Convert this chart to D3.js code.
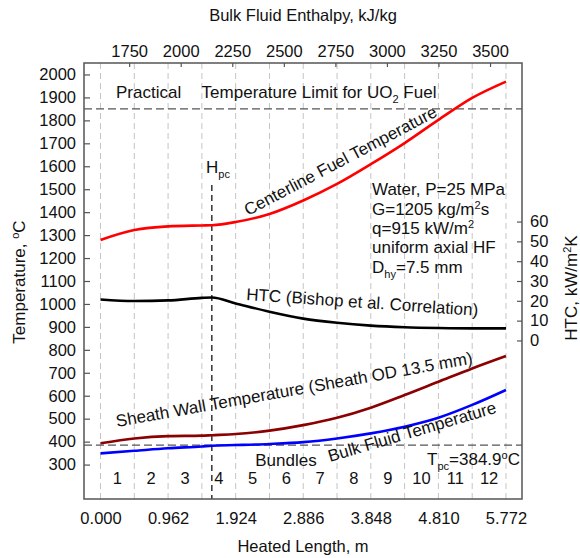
<!DOCTYPE html>
<html><head><meta charset="utf-8">
<script src="https://cdn.jsdelivr.net/npm/d3@7"></script>
<style>
body{margin:0;background:#fff}
svg text{font-family:"Liberation Sans",Arial,Helvetica,sans-serif;fill:#111}
</style>
</head><body><svg id="chart" width="580" height="558"></svg>
<script>
// ---------- data ----------
const heatedLength   = [0, 0.481, 0.962, 1.443, 1.585, 1.924, 2.405, 2.886, 3.367, 3.848, 4.329, 4.810, 5.291, 5.772];
const centerlineTemp = [1279, 1322, 1338, 1342, 1343, 1357, 1392, 1451, 1523, 1609, 1701, 1802, 1898, 1969];
const sheathTemp     = [393, 414, 424, 426, 428, 433, 448, 472, 504, 548, 603, 661, 719, 773];
const bulkTemp       = [349, 360, 371, 379, 382, 385, 390, 398, 414, 436, 465, 504, 560, 625];
const htcValues      = [20.7, 19.9, 20.2, 21.5, 21.7, 18.7, 14.5, 11.0, 8.9, 7.5, 6.7, 6.3, 6.1, 6.1];

const bundleBoundaries = [0, 0.481, 0.962, 1.443, 1.924, 2.405, 2.886, 3.367, 3.848, 4.329, 4.810, 5.291, 5.772];
const bundleLabels     = ["1","2","3","4","5","6","7","8","9","10","11","12"];
const lengthTicks      = [0, 0.962, 1.924, 2.886, 3.848, 4.810, 5.772];
const lengthTickLabels = ["0.000","0.962","1.924","2.886","3.848","4.810","5.772"];
const enthalpyTicks    = [1750, 2000, 2250, 2500, 2750, 3000, 3250, 3500];
const tempTicks        = [300,400,500,600,700,800,900,1000,1100,1200,1300,1400,1500,1600,1700,1800,1900,2000];
const htcTicks         = [0, 10, 20, 30, 40, 50, 60];
const tempLimit  = 1850;
const tPc        = 384.9;
const hPcLength  = 1.585;

// ---------- layout ----------
const L = 84, R = 522, T = 63, B = 499;
const FS = 17, TFS = 16.5;
const svg = d3.select("#chart");

const x    = d3.scaleLinear().domain([-0.235, 6.0]).range([L, R]);
const xTop = d3.scaleLinear().domain([1531, 3655]).range([L, R]);
const y    = d3.scaleLinear().domain([150, 2050]).range([B, T]);
const yR   = d3.scaleLinear().domain([-80, 140]).range([B, T]);

// vertical grid lines at bundle boundaries
svg.append("g").selectAll("line").data(bundleBoundaries).join("line")
  .attr("x1", d => x(d)).attr("x2", d => x(d)).attr("y1", T).attr("y2", B)
  .attr("stroke", "#c4c4c4").attr("stroke-width", 1).attr("stroke-dasharray", "6,4");

// horizontal reference lines
svg.append("g").selectAll("line").data([tempLimit, tPc]).join("line")
  .attr("x1", L).attr("x2", R).attr("y1", d => y(d)).attr("y2", d => y(d))
  .attr("stroke", "#555").attr("stroke-width", 1.2).attr("stroke-dasharray", "8,4");

// Hpc line
svg.append("line").attr("x1", x(hPcLength)).attr("x2", x(hPcLength))
  .attr("y1", 185).attr("y2", B)
  .attr("stroke", "#000").attr("stroke-width", 1.2).attr("stroke-dasharray", "6,4");

// axes
function styleAxis(g){
  g.select(".domain").remove();
  g.selectAll(".tick line").attr("stroke", "#555").attr("stroke-width", 1.2);
  g.selectAll(".tick text").attr("font-size", TFS).attr("fill", "#111")
    .attr("font-family", "Liberation Sans, Arial, sans-serif");
}
svg.append("g").attr("transform", `translate(${L},0)`)
  .call(d3.axisLeft(y).tickValues(tempTicks).tickSize(-6).tickPadding(8).tickFormat(d3.format("d")))
  .call(styleAxis);
svg.append("g").attr("transform", `translate(0,${T})`)
  .call(d3.axisTop(xTop).tickValues(enthalpyTicks).tickSize(-4).tickPadding(6).tickFormat(d3.format("d")))
  .call(styleAxis);
svg.append("g").attr("transform", `translate(0,${B})`)
  .call(d3.axisBottom(x).tickValues(lengthTicks).tickSize(0).tickPadding(13)
    .tickFormat((d, i) => lengthTickLabels[i]))
  .call(styleAxis);
svg.append("g").attr("transform", `translate(${R},0)`)
  .call(d3.axisRight(yR).tickValues(htcTicks).tickSize(-5).tickPadding(8).tickFormat(d3.format("d")))
  .call(styleAxis);

// frame
svg.append("rect").attr("x", L).attr("y", T).attr("width", R - L).attr("height", B - T)
  .attr("fill", "none").attr("stroke", "#555").attr("stroke-width", 1.5);

// curves
const lineT = d3.line().x((d, i) => x(heatedLength[i])).y(d => y(d)).curve(d3.curveMonotoneX);
const lineH = d3.line().x((d, i) => x(heatedLength[i])).y(d => yR(d)).curve(d3.curveMonotoneX);
svg.append("path").attr("d", lineT(centerlineTemp)).attr("fill", "none").attr("stroke", "#ff0000").attr("stroke-width", 2.6);
svg.append("path").attr("d", lineT(sheathTemp)).attr("fill", "none").attr("stroke", "#8b0000").attr("stroke-width", 2.6);
svg.append("path").attr("d", lineT(bulkTemp)).attr("fill", "none").attr("stroke", "#0000ff").attr("stroke-width", 2.6);
svg.append("path").attr("d", lineH(htcValues)).attr("fill", "none").attr("stroke", "#000").attr("stroke-width", 2.6);

// text helper
function txt(xp, yp, opts = {}){
  const t = svg.append("text").attr("x", xp).attr("y", yp).attr("font-size", opts.fs || FS);
  if (opts.anchor) t.attr("text-anchor", opts.anchor);
  if (opts.rot !== undefined) t.attr("transform", `rotate(${opts.rot},${xp},${yp})`);
  return t;
}
function parts(t, arr){
  arr.forEach(p => {
    const s = t.append("tspan").text(p.t);
    if (p.sub) s.attr("font-size", FS * 0.65).attr("dy", 5);
    if (p.sup) s.attr("font-size", FS * 0.65).attr("dy", -6);
    if (p.back) s.attr("dy", p.back);
  });
}

// axis titles
txt(303, 21, {anchor: "middle", fs: 16.5}).text("Bulk Fluid Enthalpy, kJ/kg");
txt(303, 552, {anchor: "middle", fs: 16.5}).text("Heated Length, m");
parts(txt(25, 282, {anchor: "middle", rot: -90}), [{t: "Temperature, "}, {t: "o", sup: true}, {t: "C", back: 6}]);
parts(txt(577, 288, {anchor: "middle", rot: -90}), [{t: "HTC, kW/m"}, {t: "2", sup: true}, {t: "K", back: 6}]);

// annotations
parts(txt(116, 98), [{t: "Practical"}, {t: " Temperature Limit for UO", dx: 0}, {t: "2", sub: true}, {t: " Fuel", back: -5}]);
svg.selectAll("text").filter(function(){ return this.textContent.startsWith("Practical"); })
  .select("tspan:nth-child(2)").attr("dx", 16);
parts(txt(206, 173), [{t: "H"}, {t: "pc", sub: true}]);
txt(248, 216, {rot: -27.8}).text("Centerline Fuel Temperature");
txt(246, 300, {rot: 3.9}).text("HTC (Bishop et al. Correlation)");
txt(117, 427, {rot: -10.1}).text("Sheath Wall Temperature (Sheath OD 13.5 mm)");
txt(330, 462, {rot: -16.5}).text("Bulk Fluid Temperature");
txt(286, 466, {anchor: "middle"}).text("Bundles");
parts(txt(520, 465, {anchor: "end"}), [{t: "T"}, {t: "pc", sub: true}, {t: "=384.9", back: -5}, {t: "o", sup: true}, {t: "C", back: 6}]);

const info = 372;
txt(info, 195).text("Water, P=25 MPa");
parts(txt(info, 215), [{t: "G=1205 kg/m"}, {t: "2", sup: true}, {t: "s", back: 6}]);
parts(txt(info, 234.3), [{t: "q=915 kW/m"}, {t: "2", sup: true}]);
txt(info, 253.3).text("uniform axial HF");
parts(txt(info, 272.7), [{t: "D"}, {t: "hy", sub: true}, {t: "=7.5 mm", back: -5}]);

// bundle numbers
svg.append("g").selectAll("text").data(bundleLabels).join("text")
  .attr("x", (d, i) => x((bundleBoundaries[i] + bundleBoundaries[i + 1]) / 2))
  .attr("y", 484).attr("text-anchor", "middle").attr("font-size", TFS).text(d => d);
</script>
</body></html>
